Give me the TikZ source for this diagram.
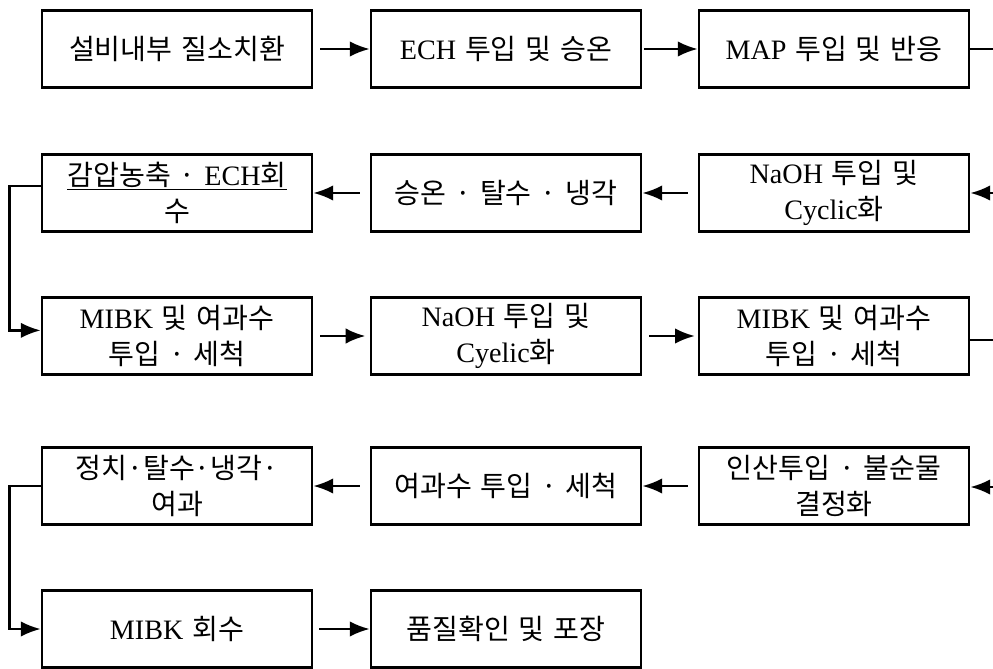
\documentclass[tikz,border=0pt]{standalone}
\usepackage{fontspec}
\setmainfont[WordSpace=1.4]{Noto Sans CJK KR}
\newfontfamily\latfont{Liberation Serif}
\newcommand{\en}[1]{{\latfont #1}}
\newcommand{\boxfont}{\fontsize{20}{26}\selectfont}
\usetikzlibrary{arrows.meta,positioning}

\begin{document}
\begin{tikzpicture}[
		x=0.025cm,y=-0.025cm,
		>={Latex[length=14pt,width=11pt]},
		stepbox/.style={
			draw,
			line width=2pt,
			minimum width=6.75cm,
			minimum height=1.92cm,
			inner sep=2pt,
			align=center,
			font=\boxfont
		},
		flow/.style={
			->,
			line width=1.6pt
		},
		link/.style={
			line width=1.6pt
		}
		]
		\useasboundingbox (0,0) rectangle (993,669);
		% row 1
		\node[stepbox] (nitro) at (177,49) {설비내부 질소치환};
		\node[stepbox] (ech) at (506,49) {\en{ECH} 투입 및 승온};
		\node[stepbox] (map) at (834,49) {\en{MAP} 투입 및 반응};
		% row 2
		\node[stepbox] (naoh1) at (834,193) {\en{NaOH} 투입 및\\\en{Cyclic}화};
		\node[stepbox] (heat) at (506,193) {승온 · 탈수 · 냉각};
		\node[stepbox] (conc) at (177,193) {\underline{감압농축 · \en{ECH}회}\\수};
		% row 3
		\node[stepbox] (wash1) at (177,336) {\en{MIBK} 및 여과수\\투입 · 세척};
		\node[stepbox] (naoh2) at (506,336) {\en{NaOH} 투입 및\\\en{Cyelic}화};
		\node[stepbox] (wash2) at (834,336) {\en{MIBK} 및 여과수\\투입 · 세척};
		% row 4
		\node[stepbox] (acid) at (834,486) {인산투입 · 불순물\\결정화};
		\node[stepbox] (wash3) at (506,486) {여과수 투입 · 세척};
		\node[stepbox] (cool) at (177,486) {정치·탈수·냉각·\\여과};
		% row 5
		\node[stepbox] (mibk) at (177,629) {\en{MIBK} 회수};
		\node[stepbox] (pack) at (506,629) {품질확인 및 포장};
		% free ends at the right border
		\coordinate (out1) at (993,49);
		\coordinate (in2) at (993,193);
		\coordinate (out3) at (993,340);
		\coordinate (in4) at (993,487);
		% connectors
		\draw[flow,shorten <=5pt] (nitro) -- (ech);
		\draw[flow,shorten <=1pt] (ech) -- (map);
		\draw[link] (map.east) -- (out1);
		\draw[flow] (in2) -- (naoh1.east);
		\draw[flow,shorten <=7pt] (naoh1) -- (heat);
		\draw[flow,shorten <=7pt] (heat) -- (conc);
		\draw[flow] ([yshift=5pt]conc.west) -- ++(-31,0) |- ([yshift=4pt]wash1.west);
		\draw[flow,shorten <=5pt,shorten >=3pt] (wash1) -- (naoh2);
		\draw[flow,shorten <=5pt,shorten >=2pt] (naoh2) -- (wash2);
		\draw[link] (wash2.east |- out3) -- (out3);
		\draw[flow] (in4) -- (acid.east |- in4);
		\draw[flow,shorten <=7pt] (acid) -- (wash3);
		\draw[flow,shorten <=7pt] (wash3) -- (cool);
		\draw[flow] (cool.west) -- ++(-31,0) |- (mibk.west);
		\draw[flow,shorten <=4pt] (mibk) -- (pack);
		\end{tikzpicture}
\end{document}
